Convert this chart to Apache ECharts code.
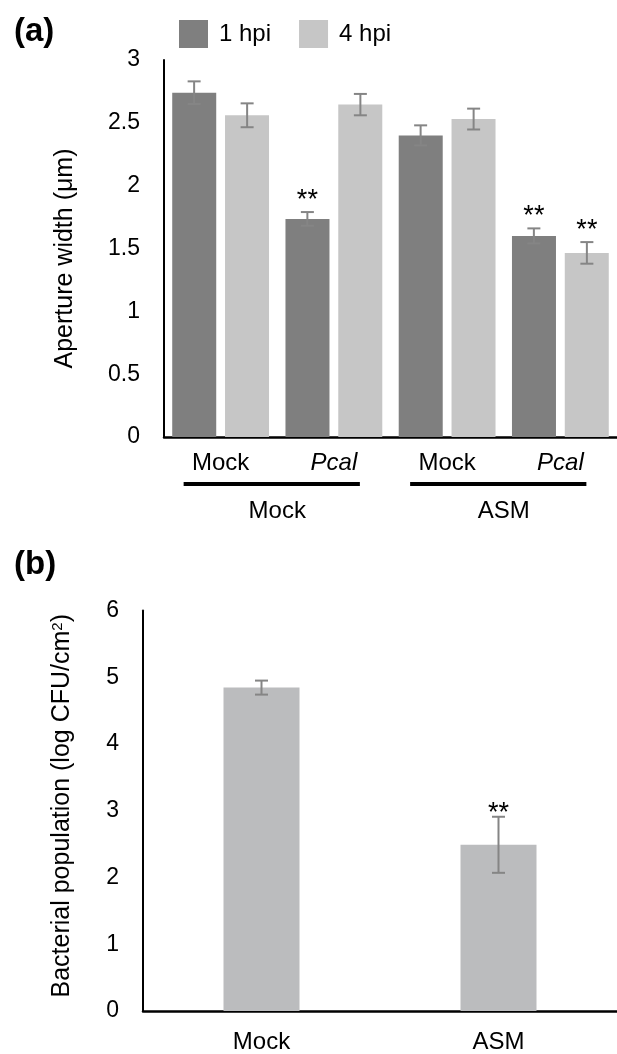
<!DOCTYPE html>
<html>
<head>
<meta charset="utf-8">
<script src="https://cdn.jsdelivr.net/npm/echarts@6/dist/echarts.min.js"></script>
<style>
  html, body { margin: 0; padding: 0; background: #fff; }
  #main { width: 617px; height: 1054px; }
</style>
</head>
<body>
<div id="main"></div>
<script>
// panel (a): aperture width
const treatCats = ['Mock', 'Pcal', 'Mock', 'Pcal'];
const groupCats = ['Mock', 'ASM'];
const hpi1 = [2.74, 1.735, 2.40, 1.60];
const hpi1Err = [0.09, 0.055, 0.08, 0.06];
const hpi1Sig = ['', '**', '', '**'];
const hpi4 = [2.56, 2.645, 2.53, 1.465];
const hpi4Err = [0.095, 0.085, 0.083, 0.086];
const hpi4Sig = ['', '', '', '**'];

// panel (b): bacterial population
const popCats = ['Mock', 'ASM'];
const popVals = [4.845, 2.49];
const popErr = [0.105, 0.42];
const popSig = ['', '**'];

const FONT = 'Liberation Sans, Arial, Helvetica, sans-serif';
const ERR_COLOR = '#858585';

const chart = echarts.init(document.getElementById('main'));

function errItems(vals, errs) {
    return vals.map((v, i) => [i, v, errs[i]]);
}

function errRenderer(sigs, shift, textLift) {
    return function (params, api) {
        const x = api.coord([api.value(0), 0])[0] + shift;
        const top = api.coord([api.value(0), api.value(1) + api.value(2)])[1];
        const bot = api.coord([api.value(0), api.value(1) - api.value(2)])[1];
        const cap = 6.5;
        const st = { stroke: ERR_COLOR, lineWidth: 2 };
        const kids = [
            { type: 'line', shape: { x1: x, y1: top, x2: x, y2: bot }, style: st },
            { type: 'line', shape: { x1: x - cap, y1: top, x2: x + cap, y2: top }, style: st },
            { type: 'line', shape: { x1: x - cap, y1: bot, x2: x + cap, y2: bot }, style: st }
        ];
        const sig = sigs[params.dataIndex];
        if (sig) {
            kids.push({
                type: 'text',
                style: {
                    text: sig, x: x, y: top - textLift,
                    align: 'center', verticalAlign: 'bottom',
                    font: '27px ' + FONT, fill: '#000'
                }
            });
        }
        return { type: 'group', children: kids };
    };
}

const option = {
    animation: false,
    textStyle: { fontFamily: FONT },
    title: [
        { text: '(a)', left: 9, top: 10, textStyle: { fontSize: 33, fontWeight: 'bold', color: '#000', fontFamily: FONT } },
        { text: '(b)', left: 9, top: 543, textStyle: { fontSize: 33, fontWeight: 'bold', color: '#000', fontFamily: FONT } }
    ],
    legend: {
        left: 174, top: 15,
        itemWidth: 29, itemHeight: 28, itemGap: 28,
        icon: 'rect',
        data: ['1 hpi', '4 hpi'],
        textStyle: { fontSize: 24, color: '#000', padding: [0, 0, 0, 6] }
    },
    grid: [
        { left: 164, top: 60, width: 464, height: 377 },
        { left: 143, top: 610.5, width: 487, height: 402.5 }
    ],
    xAxis: [
        {
            type: 'category', gridIndex: 0, data: treatCats,
            axisLine: { lineStyle: { color: '#000', width: 2.5 } },
            axisTick: { show: false },
            axisLabel: {
                margin: 14, color: '#000', fontSize: 24,
                formatter: v => v === 'Pcal' ? '{i|Pcal}' : v,
                rich: { i: { fontStyle: 'italic', fontSize: 24, color: '#000' } }
            }
        },
        {
            type: 'category', gridIndex: 0, data: groupCats, position: 'bottom', offset: 48,
            axisLine: { show: false }, axisTick: { show: false },
            axisLabel: { margin: 14, color: '#000', fontSize: 24 }
        },
        {
            type: 'category', gridIndex: 1, data: popCats,
            axisLine: { lineStyle: { color: '#000', width: 2.5 } },
            axisTick: { show: false },
            axisLabel: { margin: 19, color: '#000', fontSize: 24 }
        }
    ],
    yAxis: [
        {
            type: 'value', gridIndex: 0, min: 0, max: 3, interval: 0.5,
            name: 'Aperture width (μm)', nameLocation: 'middle', nameGap: 86,
            nameTextStyle: { fontSize: 25, color: '#000', padding: [0, 20, 0, 0] },
            axisLine: { show: true, lineStyle: { color: '#000', width: 2 } },
            axisTick: { show: false }, splitLine: { show: false },
            axisLabel: { margin: 24, color: '#000', fontSize: 23 }
        },
        {
            type: 'value', gridIndex: 1, min: 0, max: 6, interval: 1,
            name: '{n|Bacterial population (log CFU/cm}{s|2}{n|)}', nameLocation: 'middle', nameGap: 68,
            nameTextStyle: {
                fontSize: 25, color: '#000', padding: [0, 0, 0, 10],
                rich: {
                    n: { fontSize: 25, color: '#000' },
                    s: { fontSize: 15, color: '#000', verticalAlign: 'top', padding: [0, 0, 10, 0] }
                }
            },
            axisLine: { show: true, lineStyle: { color: '#000', width: 2 } },
            axisTick: { show: false }, splitLine: { show: false },
            axisLabel: { margin: 24, color: '#000', fontSize: 23 }
        }
    ],
    series: [
        {
            name: '1 hpi', type: 'bar', xAxisIndex: 0, yAxisIndex: 0,
            data: hpi1, barWidth: 44, barGap: '20%',
            itemStyle: { color: '#7f7f7f' }
        },
        {
            name: '4 hpi', type: 'bar', xAxisIndex: 0, yAxisIndex: 0,
            data: hpi4, barWidth: 44, barGap: '20%',
            itemStyle: { color: '#c6c6c6' }
        },
        {
            type: 'custom', xAxisIndex: 0, yAxisIndex: 0, z: 5,
            data: errItems(hpi1, hpi1Err),
            renderItem: errRenderer(hpi1Sig, -26.5, -2)
        },
        {
            type: 'custom', xAxisIndex: 0, yAxisIndex: 0, z: 5,
            data: errItems(hpi4, hpi4Err),
            renderItem: errRenderer(hpi4Sig, 26.5, -2)
        },
        {
            name: 'pop', type: 'bar', xAxisIndex: 2, yAxisIndex: 1,
            data: popVals, barWidth: 76,
            itemStyle: { color: '#bbbcbe' }
        },
        {
            type: 'custom', xAxisIndex: 2, yAxisIndex: 1, z: 5,
            data: errItems(popVals, popErr),
            renderItem: errRenderer(popSig, 0, -10)
        }
    ]
};

chart.setOption(option);

// group underlines below the treatment labels
const baseY = chart.convertToPixel({ yAxisIndex: 0 }, 0) + 47;
const lines = [[0, 1], [2, 3]].map(pair => {
    const x1 = chart.convertToPixel({ xAxisIndex: 0 }, pair[0]) - 37;
    const x2 = chart.convertToPixel({ xAxisIndex: 0 }, pair[1]) + 26;
    return {
        type: 'line',
        shape: { x1: x1, y1: baseY, x2: x2, y2: baseY },
        style: { stroke: '#000', lineWidth: 4 }
    };
});
chart.setOption({ graphic: lines });
</script>
</body>
</html>
